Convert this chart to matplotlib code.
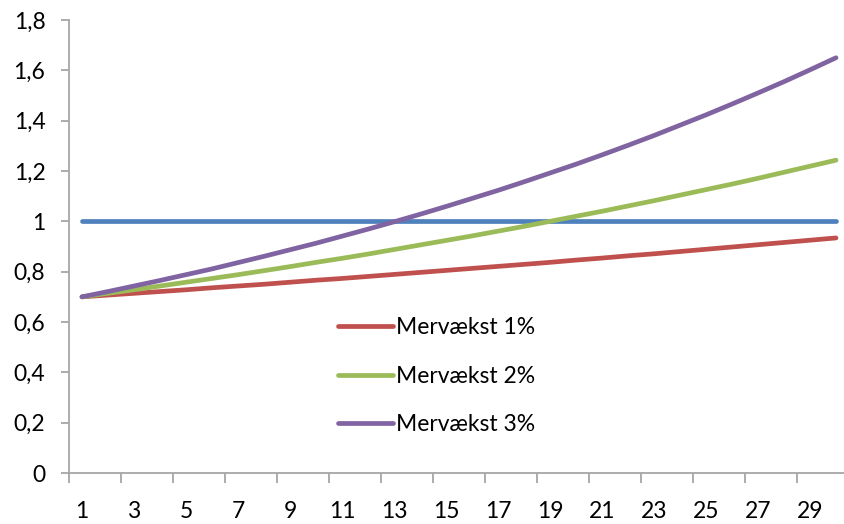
import matplotlib
matplotlib.use("Agg")
import matplotlib.pyplot as plt
from matplotlib.ticker import FixedLocator, FuncFormatter

years = list(range(1, 31))
baseline = [1.0] * 30
vaekst_1 = [0.700, 0.707, 0.714, 0.721, 0.728, 0.736, 0.743, 0.750, 0.758, 0.766,
            0.773, 0.781, 0.789, 0.797, 0.805, 0.813, 0.821, 0.829, 0.837, 0.846,
            0.854, 0.863, 0.871, 0.880, 0.889, 0.898, 0.907, 0.916, 0.925, 0.934]
vaekst_2 = [0.700, 0.714, 0.728, 0.743, 0.758, 0.773, 0.788, 0.804, 0.820, 0.837,
            0.853, 0.870, 0.888, 0.906, 0.924, 0.942, 0.961, 0.980, 1.000, 1.020,
            1.040, 1.061, 1.082, 1.104, 1.126, 1.148, 1.171, 1.195, 1.219, 1.243]
vaekst_3 = [0.700, 0.721, 0.743, 0.765, 0.788, 0.811, 0.836, 0.861, 0.887, 0.913,
            0.941, 0.969, 0.998, 1.028, 1.059, 1.091, 1.123, 1.157, 1.192, 1.227,
            1.264, 1.302, 1.341, 1.382, 1.423, 1.466, 1.510, 1.555, 1.602, 1.650]
labels = ["Mervækst 1%", "Mervækst 2%", "Mervækst 3%"]
y_ticks = [0, 0.2, 0.4, 0.6, 0.8, 1.0, 1.2, 1.4, 1.6, 1.8]
x_labels = list(range(1, 30, 2))

plt.rcParams["font.family"] = ["Lato", "DejaVu Sans"]

W, H = 844, 524
fig = plt.figure(figsize=(W / 100, H / 100), dpi=100)
ax = fig.add_axes([69 / W, (H - 473) / H, 780 / W, (473 - 20) / H])

lw = 3.4
ax.plot(years, baseline, color="#4F81BD", lw=lw, solid_capstyle="round")
ax.plot(years, vaekst_1, color="#C0504D", lw=lw, solid_capstyle="round", label=labels[0])
ax.plot(years, vaekst_2, color="#9BBB59", lw=lw, solid_capstyle="round", label=labels[1])
ax.plot(years, vaekst_3, color="#8064A2", lw=lw, solid_capstyle="round", label=labels[2])

ax.set_xlim(0.5, 30.5)
ax.set_ylim(0, 1.8)

axis_grey = "#A6A6A6"
for side in ("top", "right"):
    ax.spines[side].set_visible(False)
for side in ("left", "bottom"):
    ax.spines[side].set_color(axis_grey)
    ax.spines[side].set_linewidth(1.3)

fs = 16.5

# y axis
ax.set_yticks(y_ticks)
ax.yaxis.set_major_formatter(FuncFormatter(lambda v, p: f"{v:g}".replace(".", ",")))
ax.tick_params(axis="y", direction="out", length=6, width=1.3, color=axis_grey,
               pad=11, labelsize=fs, labelcolor="black")

# x axis: tick marks between categories, labels on the categories
ax.xaxis.set_major_locator(FixedLocator([x - 0.5 for x in x_labels] + [30.5]))
ax.xaxis.set_major_formatter(FuncFormatter(lambda v, p: ""))
ax.xaxis.set_minor_locator(FixedLocator(x_labels))
ax.xaxis.set_minor_formatter(FuncFormatter(lambda v, p: f"{int(v)}"))
ax.tick_params(axis="x", which="major", direction="out", length=7, width=1.3, color=axis_grey)
ax.tick_params(axis="x", which="minor", length=0, pad=20.5, labelsize=fs, labelcolor="black")

ax.legend(loc="upper left", bbox_to_anchor=(338 / W, (H - 317.5) / H),
          bbox_transform=fig.transFigure, frameon=False, fontsize=fs,
          handlelength=2.4, handletextpad=0.15, labelspacing=1.18,
          borderpad=0, borderaxespad=0)

fig.savefig("out.png", dpi=100)
